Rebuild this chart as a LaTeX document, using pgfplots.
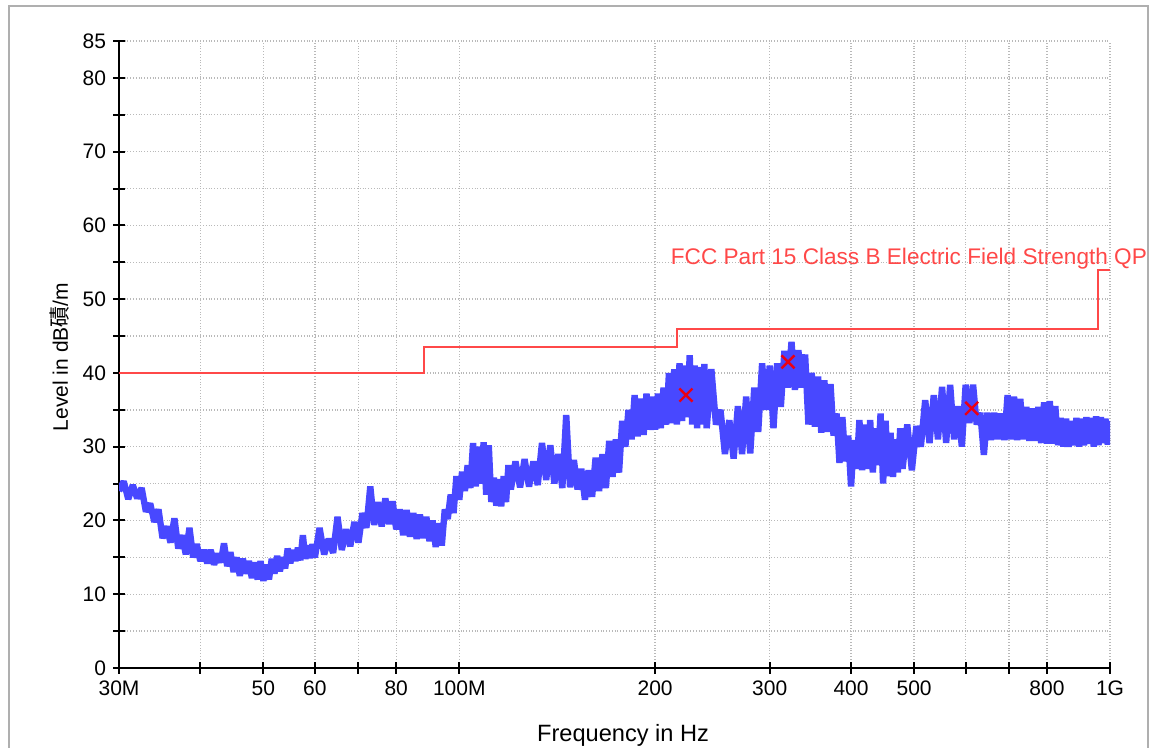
\documentclass[border=0pt]{standalone}
\usepackage{pgfplots}
\pgfplotsset{compat=1.18}
\usepackage{fontspec}
\setmainfont{Liberation Sans}
\newfontfamily\cjk{Noto Sans CJK SC}
\definecolor{trace}{RGB}{72,72,255}
\definecolor{limitred}{RGB}{255,72,72}
\definecolor{markred}{RGB}{235,0,20}
\definecolor{gridgray}{RGB}{185,185,185}
\definecolor{framegray}{RGB}{175,175,175}

\pgfplotstableread{
f y
30 24.0
30.5 25.3
31 22.9
31.5 24.8
32 23.0
32.5 24.4
33 21.2
33.5 22.3
34 19.8
34.5 21.5
35 17.6
35.5 19.2
36 17.0
36.5 20.3
37 16.2
37.5 18.0
38 15.4
38.5 19.0
39 15.0
39.5 16.8
40 14.5
40.5 16.0
41 14.2
41.5 16.0
42 14.0
42.5 15.5
43 14.3
43.5 16.9
44 13.8
44.5 15.7
45 13.0
45.5 15.0
46 12.5
46.5 14.8
47 12.8
47.5 14.5
48 12.2
48.5 14.3
49 12.0
49.5 14.5
50 11.8
50.5 14.0
51 12.0
51.5 14.8
52 12.8
52.5 15.2
53 13.1
53.5 15.0
54 13.5
54.5 16.2
55 14.2
55.5 16.0
56 14.5
56.5 16.3
57 14.6
57.5 18.0
58 14.8
58.5 16.6
59 14.9
59.5 16.8
60 15.0
61 19.0
62 15.4
63 17.5
64 15.6
65 20.5
66 16.0
67 18.8
68 16.5
69 19.8
70 17.0
71 21.0
72 19.0
73 24.6
74 19.4
75 22.5
76 19.2
77 23.0
78 19.5
79 22.6
80 18.8
81 21.5
82 18.0
83 21.4
84 17.8
85 21.0
86 17.5
87 20.8
88 17.6
89 20.5
90 17.2
91 20.0
92 16.4
93 19.6
94 16.6
95 21.5
96 20.2
97 23.5
98 21.0
99 26.0
100 22.8
101 26.6
102 24.0
103 27.5
104 24.4
105 30.5
106 24.6
107 30.0
108 25.0
109 30.6
110 23.5
111 30.2
112 22.5
113 25.8
114 22.0
115 25.6
116 21.9
117 26.0
118 22.5
119 27.5
120 24.2
122 28.0
124 24.5
126 28.3
128 24.6
130 28.0
132 24.8
134 30.5
136 25.5
138 30.2
140 25.0
142 29.0
144 24.4
146 34.3
148 24.5
150 28.2
152 24.2
154 27.0
156 22.8
158 26.8
160 23.2
162 28.5
164 24.0
166 29.0
168 24.4
170 30.8
172 25.9
174 31.0
176 26.5
178 33.5
180 30.0
182 35.0
184 31.0
186 37.0
188 31.4
190 36.5
192 31.6
194 37.2
196 32.3
198 36.8
200 32.3
202 37.2
204 32.5
206 38.0
208 33.0
210 40.0
212 33.2
214 40.5
216 33.0
218 41.3
220 33.5
222 41.0
224 34.0
226 42.4
228 33.0
230 41.0
232 32.5
234 40.8
236 33.0
238 41.2
240 32.5
244 40.5
248 33.0
252 35.0
256 29.0
260 33.6
264 28.4
268 35.5
272 29.0
276 36.8
280 29.1
284 38.0
288 32.0
292 41.3
296 35.0
300 41.0
304 32.5
308 41.3
312 35.4
316 43.0
320 38.0
324 44.2
328 37.7
332 43.1
336 38.0
340 42.5
344 33.0
348 40.0
352 32.7
356 39.5
360 31.9
364 39.0
368 32.0
372 38.5
376 31.5
380 34.5
384 27.8
388 34.0
392 28.0
396 31.5
400 24.6
404 30.9
408 27.0
412 33.6
416 26.8
420 33.0
424 27.0
428 33.6
432 26.5
436 32.5
440 27.5
444 34.5
448 25.0
452 33.5
456 26.0
460 31.9
464 25.9
468 31.0
472 26.5
476 32.5
480 27.0
488 33.0
496 26.8
504 32.8
512 30.0
520 36.3
528 30.5
536 37.0
544 31.0
552 38.1
560 30.5
568 38.4
576 31.0
584 35.5
592 30.0
600 38.4
608 33.2
616 38.4
624 33.0
632 34.6
640 28.9
648 34.6
656 30.9
664 34.6
672 31.0
680 34.5
688 30.9
696 37.0
704 31.0
712 36.8
720 30.9
728 36.5
736 31.0
744 35.4
752 30.8
760 35.2
768 30.8
776 35.4
784 30.5
792 36.0
800 30.4
808 36.2
816 30.4
824 35.5
832 30.2
840 33.9
848 30.0
856 33.8
864 30.0
872 33.5
880 30.2
888 33.9
896 30.0
904 33.8
912 30.2
920 34.0
928 30.4
936 33.9
944 30.0
952 34.1
960 30.2
968 34.0
976 30.5
984 33.8
992 30.3
1000 33.5
}\tracedata

\begin{document}
\begin{tikzpicture}
\useasboundingbox (-59.5pt,-40pt) rectangle (515.5pt,334pt);
\draw[framegray, line width=1pt] (-55pt,-60pt) rectangle (514.5pt,331pt);
\begin{axis}[
  at={(0pt,0pt)}, anchor=south west,
  scale only axis, width=495.5pt, height=313.5pt,
  xmode=log, xmin=30, xmax=1000, ymin=0, ymax=85,
  axis x line=bottom, axis y line=left,
  axis line style={-, line width=1.2pt, black},
  xtick={30,40,50,60,70,80,100,200,300,400,500,600,700,800,1000},
  xticklabels={30M,,50,60,,80,100M,200,300,400,500,,,800,1G},
  ytick={0,5,...,85},
  yticklabels={0,,10,,20,,30,,40,,50,,60,,70,,80,85},
  xminorticks=false, yminorticks=false,
  tick align=center, major tick length=6pt,
  tick style={black, line width=1pt},
  grid=major,
  major grid style={gridgray, densely dotted, line width=0.7pt},
  tick label style={font=\fontsize{10.5}{12}\selectfont},
  /pgf/number format/assume math mode=true,
  xlabel={Frequency in Hz},
  xlabel style={font=\fontsize{11.8}{14}\selectfont, at={(axis description cs:0.5086,0)}, anchor=base, yshift=-37pt},
  ylabel={Level in dB{\cjk 磧}/m},
  ylabel style={font=\fontsize{10.5}{12}\selectfont, at={(axis description cs:-0.0515,0.496)}, anchor=base, rotate=0},
]
\addplot[trace, line width=3.2pt, line join=bevel] table[x=f, y=y] {\tracedata};
\addplot[limitred, line width=1pt] coordinates {(30,40) (88.3,40) (88.3,43.5) (216,43.5) (216,46) (960,46) (960,54) (1000,54)};
\addplot[only marks, mark=x, markred, mark size=4.6pt, line width=1.2pt] coordinates {(223,37.0) (320,41.5) (613,35.2)};
\end{axis}
\node[anchor=base east, text=limitred, font=\fontsize{11.3}{13}\selectfont] at (517.5pt,201.5pt) {FCC Part 15 Class B Electric Field Strength QP};
\end{tikzpicture}
\end{document}
